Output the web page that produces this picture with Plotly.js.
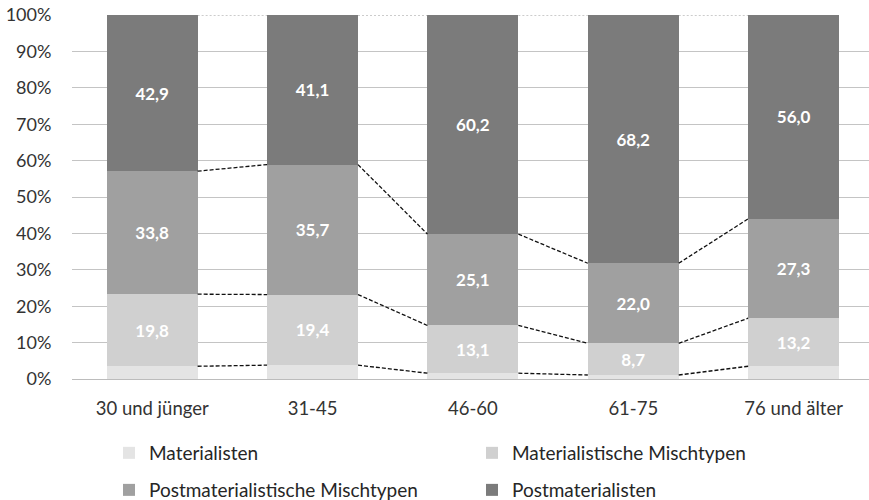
<!DOCTYPE html>
<html>
<head>
<meta charset="utf-8">
<script src="https://cdn.plot.ly/plotly-3.0.1.min.js"></script>
<style>html,body{margin:0;padding:0;background:#fff;}#chart{width:869px;height:500px;}</style>
</head>
<body>
<div id="chart"></div>
<script>
// ---- data ----
const categories = ['30 und jünger', '31-45', '46-60', '61-75', '76 und älter'];
const seriesNames = ['Materialisten', 'Materialistische Mischtypen', 'Postmaterialistische Mischtypen', 'Postmaterialisten'];
const materialisten = [3.5, 3.8, 1.6, 1.1, 3.5];
const matMischtypen = [19.8, 19.4, 13.1, 8.7, 13.2];
const postMischtypen = [33.8, 35.7, 25.1, 22.0, 27.3];
const postmaterialisten = [42.9, 41.1, 60.2, 68.2, 56.0];
const yTickVals = [0, 10, 20, 30, 40, 50, 60, 70, 80, 90, 100];
const yTickText = ['0%', '10%', '20%', '30%', '40%', '50%', '60%', '70%', '80%', '90%', '100%'];

// ---- styling ----
const FONT = 'Lato, "Open Sans", sans-serif';
const colors = ['#e4e4e4', '#d0d0d0', '#a0a0a0', '#7b7b7b'];
const BARW = 0.567;
const idx = categories.map((_, i) => i);
const series = [materialisten, matMischtypen, postMischtypen, postmaterialisten];

const traces = [];
series.forEach((vals, s) => {
  traces.push({
    type: 'bar',
    name: seriesNames[s],
    x: idx,
    y: vals,
    width: BARW,
    marker: { color: colors[s], line: { width: 0 } },
    text: s === 0 ? null : vals,
    texttemplate: s === 0 ? null : '%{y:.1f}',
    textposition: s === 0 ? 'none' : 'inside',
    insidetextanchor: 'middle',
    textfont: { family: FONT, size: 17, color: '#ffffff', weight: 'bold' },
    hoverinfo: 'skip',
    legend: s < 2 ? 'legend' : 'legend2'
  });
});

// series lines (dashed connectors between bar edges)
let cum = categories.map(() => 0);
series.forEach((vals, s) => {
  cum = cum.map((c, i) => c + vals[i]);
  const xs = [], ys = [];
  for (let i = 0; i < categories.length - 1; i++) {
    xs.push(i + BARW / 2, i + 1 - BARW / 2, null);
    ys.push(cum[i], cum[i + 1], null);
  }
  const top = s === series.length - 1;
  traces.push({
    type: 'scatter', mode: 'lines', x: xs, y: ys, showlegend: false, hoverinfo: 'skip',
    line: { color: top ? '#9a9a9a' : '#111111', width: top ? 1 : 1.3, dash: top ? '2px,2px' : '4px,2px' }
  });
});

const legendCommon = {
  orientation: 'h', xanchor: 'left', yanchor: 'middle',
  font: { family: FONT, size: 19, color: '#262626' },
  entrywidth: 318, entrywidthmode: 'pixels', bgcolor: 'rgba(0,0,0,0)', traceorder: 'normal'
};

const layout = {
  width: 869, height: 500,
  margin: { l: 72, r: 0, t: 15, b: 121, autoexpand: false },
  paper_bgcolor: '#ffffff', plot_bgcolor: '#ffffff',
  barmode: 'stack', bargap: 0,
  separators: ',.',
  font: { family: FONT, size: 18, color: '#404040' },
  xaxis: {
    range: [-0.5, 4.47], tickvals: idx, ticktext: categories,
    showgrid: false, zeroline: false, showline: true, linecolor: '#bcbcbc', linewidth: 1,
    ticks: 'outside', ticklen: 13, tickcolor: 'rgba(0,0,0,0)', automargin: false,
    tickfont: { family: FONT, size: 18.5, color: '#333333' }, fixedrange: true
  },
  yaxis: {
    range: [0, 100], tickvals: yTickVals, ticktext: yTickText,
    showgrid: true, gridcolor: '#c4c4c4', gridwidth: 1, zeroline: false,
    ticks: 'outside', ticklen: 16, tickcolor: 'rgba(0,0,0,0)', automargin: false,
    tickfont: { family: FONT, size: 18, color: '#333333' }, fixedrange: true
  },
  legend: Object.assign({}, legendCommon, { x: 0.0464, y: -0.2033 }),
  legend2: Object.assign({}, legendCommon, { x: 0.0464, y: -0.305 }),
  showlegend: true
};

Plotly.newPlot('chart', traces, layout, { displayModeBar: false, staticPlot: true });
</script>
</body>
</html>
